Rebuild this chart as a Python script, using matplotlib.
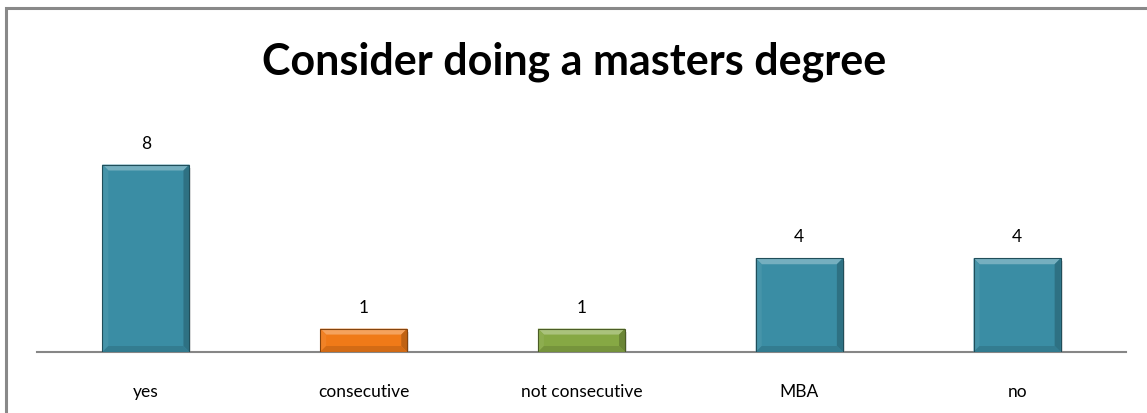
import matplotlib
matplotlib.use("Agg")
import matplotlib.pyplot as plt
from matplotlib.patches import Polygon, Rectangle
import matplotlib.colors as mcolors

categories = ["yes", "consecutive", "not consecutive", "MBA", "no"]
counts = [8, 1, 1, 4, 4]
bar_colors = ["#3A8DA4", "#F07A18", "#86A844", "#3A8DA4", "#3A8DA4"]

W, H = 1147, 414
fig = plt.figure(figsize=(W / 100, H / 100), dpi=100)
fig.patch.set_facecolor("white")

# outer chart border (only top/left visible, rest is cropped)
fig.add_artist(Rectangle((5.5 / W, -0.05), 1.2, 1 - 8.5 / H + 0.05,
                         transform=fig.transFigure, fill=False,
                         edgecolor="#898989", linewidth=2.2))

ax_bottom, ax_top = 353, 128
ax = fig.add_axes([37 / W, (H - ax_bottom) / H, (1126 - 37) / W, (ax_bottom - ax_top) / H])
ax.set_xlim(-0.5, len(categories) - 0.5)
ax.set_ylim(0, 9.6)

bars = ax.bar(range(len(categories)), counts, width=0.4, color=bar_colors,
              edgecolor="none", zorder=2)


def shade(c, f):
    r, g, b = mcolors.to_rgb(c)
    if f > 0:
        return (r + (1 - r) * f, g + (1 - g) * f, b + (1 - b) * f)
    return (r * (1 + f), g * (1 + f), b * (1 + f))


# bevel edges, sized in pixels and converted through the axes scales
px_x = (ax.get_xlim()[1] - ax.get_xlim()[0]) / (1126 - 37)
px_y = (ax.get_ylim()[1] - ax.get_ylim()[0]) / (ax_bottom - ax_top)
bev = 6
for b, c in zip(bars, bar_colors):
    x0, y0 = b.get_x(), b.get_y()
    x1, y1 = x0 + b.get_width(), y0 + b.get_height()
    dx, dy = bev * px_x, bev * px_y
    # soft shadow
    ax.add_patch(Rectangle((x0 + 2 * px_x, y0 - 3 * px_y), b.get_width(), b.get_height(),
                           color="#c4c4c4", alpha=0.5, zorder=1, lw=0))
    faces = [
        ([(x0, y1), (x1, y1), (x1 - dx, y1 - dy), (x0 + dx, y1 - dy)], 0.3),
        ([(x0, y0), (x0, y1), (x0 + dx, y1 - dy), (x0 + dx, y0 + dy)], 0.06),
        ([(x1, y0), (x1, y1), (x1 - dx, y1 - dy), (x1 - dx, y0 + dy)], -0.2),
        ([(x0, y0), (x1, y0), (x1 - dx, y0 + dy), (x0 + dx, y0 + dy)], -0.12),
    ]
    for pts, f in faces:
        ax.add_patch(Polygon(pts, closed=True, facecolor=shade(c, f),
                             edgecolor="none", zorder=3))
    ax.add_patch(Rectangle((x0, y0), b.get_width(), b.get_height(), fill=False,
                           edgecolor=shade(c, -0.45), lw=0.8, zorder=4))
    ax.annotate(f"{b.get_height():g}", (b.get_x() + b.get_width() / 2, y1),
                xytext=(0, 10), textcoords="offset points", ha="center",
                va="bottom", fontsize=12.5, family="Lato", color="black")

for s in ["top", "right", "left"]:
    ax.spines[s].set_visible(False)
ax.spines["bottom"].set_color("#868686")
ax.spines["bottom"].set_linewidth(1.5)
ax.set_yticks([])
ax.set_xticks(range(len(categories)))
ax.set_xticklabels(categories, fontsize=12.5, family="Lato")
ax.tick_params(axis="x", length=0, pad=22)

fig.text(574 / W, 1 - 62 / H, "Consider doing a masters degree", ha="center",
         va="center", fontsize=31, fontweight="bold", family="Lato")

fig.savefig("out.png", dpi=100)
